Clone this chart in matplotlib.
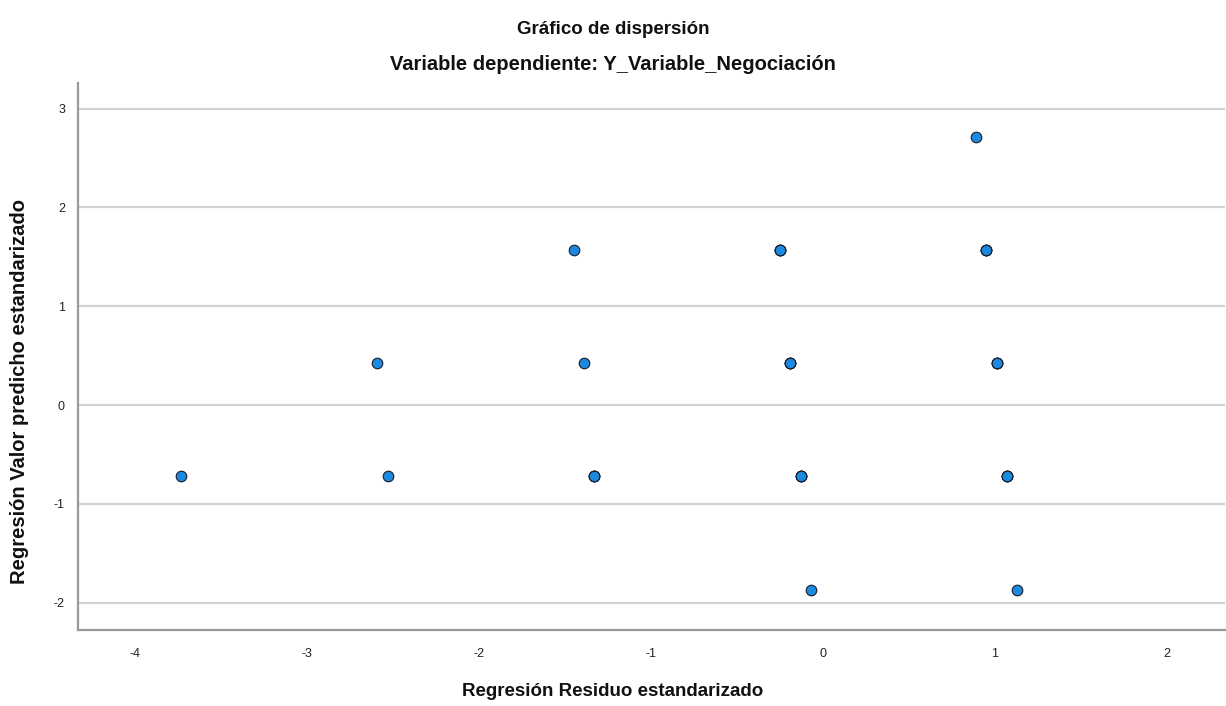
import matplotlib
matplotlib.use("Agg")
import matplotlib.pyplot as plt
import numpy as np

# standardized residual (x) vs standardized predicted value (y)
residuo = [0.89,
           -1.45, -0.25, 0.95,
           -2.59, -1.39, -0.19, 1.01,
           -3.73, -2.53, -1.33, -0.13, 1.07,
           -0.07, 1.13]
predicho = [2.716,
            1.570, 1.570, 1.570,
            0.424, 0.424, 0.424, 0.424,
            -0.722, -0.722, -0.722, -0.722, -0.722,
            -1.868, -1.868]
# cases sitting on the same spot (drawn on top of each other)
casos = [1, 1, 3, 3, 1, 1, 3, 3, 1, 1, 3, 3, 3, 1, 1]

x_ticks = [-4, -3, -2, -1, 0, 1, 2]
y_ticks = [-2, -1, 0, 1, 2, 3]

plt.rcParams['font.family'] = ['Liberation Sans', 'DejaVu Sans']
plt.rcParams['axes.unicode_minus'] = False

fig = plt.figure(figsize=(12.26, 7.06), dpi=100)
ax = fig.add_axes([77.5 / 1226, 76 / 706, 1147.5 / 1226, 547 / 706])

xs = np.repeat(residuo, casos)
ys = np.repeat(predicho, casos)
ax.scatter(xs, ys, s=58, color='#1a8ae0', edgecolor='#1a1a2a', linewidth=0.8, zorder=3)

ax.set_xlim(-4.334, 2.337)
ax.set_ylim(-2.277, 3.26)
ax.set_xticks(x_ticks)
ax.set_yticks(y_ticks)
ax.tick_params(length=0, labelsize=9, colors='#222222')
ax.tick_params(axis='x', pad=13)
ax.tick_params(axis='y', pad=9)

ax.yaxis.grid(True, color='#d2d2d2', linewidth=1.6)
ax.set_axisbelow(True)
for side in ['top', 'right']:
    ax.spines[side].set_visible(False)
for side in ['left', 'bottom']:
    ax.spines[side].set_color('#9a9a9a')
    ax.spines[side].set_linewidth(1.6)

fig.text(0.5, 1 - 30 / 706, 'Gráfico de dispersión', ha='center', va='center',
         fontsize=13.5, fontweight='bold', color='#111111')
fig.text(0.5, 1 - 64 / 706, 'Variable dependiente: Y_Variable_Negociación', ha='center', va='center',
         fontsize=14.5, fontweight='bold', color='#111111')
fig.text(0.5, 1 - 692 / 706, 'Regresión Residuo estandarizado', ha='center', va='center',
         fontsize=13.5, fontweight='bold', color='#111111')
fig.text(20 / 1226, 1 - 392 / 706, 'Regresión Valor predicho estandarizado', ha='center', va='center',
         rotation=90, fontsize=14.5, fontweight='bold', color='#111111')

fig.savefig('out.png', dpi=100)
